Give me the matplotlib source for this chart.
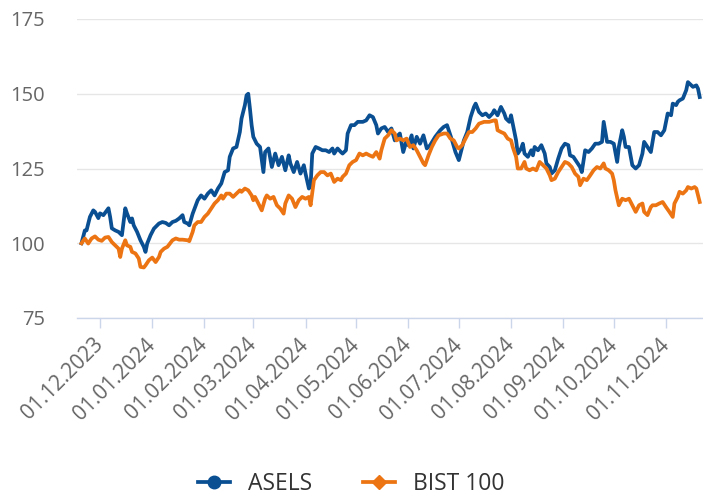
import pandas as pd
import matplotlib
matplotlib.use("Agg")
import matplotlib.pyplot as plt
import matplotlib.dates as mdates
from matplotlib.lines import Line2D

plt.rcParams['font.family'] = ['Open Sans', 'DejaVu Sans']

# ASELS (normalised to 100)
asels_dates = [
    "2023-11-20", "2023-11-22", "2023-11-23", "2023-11-25", "2023-11-27", "2023-11-28", "2023-11-30",
    "2023-12-01", "2023-12-03", "2023-12-06", "2023-12-07", "2023-12-08", "2023-12-10", "2023-12-12",
    "2023-12-14", "2023-12-16", "2023-12-17", "2023-12-19", "2023-12-20", "2023-12-21", "2023-12-23",
    "2023-12-25", "2023-12-27", "2023-12-28", "2023-12-29", "2023-12-31",
    "2024-01-02", "2024-01-05", "2024-01-07", "2024-01-09", "2024-01-11", "2024-01-13", "2024-01-15",
    "2024-01-17", "2024-01-19", "2024-01-20", "2024-01-22", "2024-01-23", "2024-01-25", "2024-01-28",
    "2024-01-30",
    "2024-02-01", "2024-02-03", "2024-02-05", "2024-02-07", "2024-02-09", "2024-02-11", "2024-02-13",
    "2024-02-15", "2024-02-16", "2024-02-18", "2024-02-20", "2024-02-22", "2024-02-23", "2024-02-25",
    "2024-02-26", "2024-02-27", "2024-02-28", "2024-02-29",
    "2024-03-01", "2024-03-03", "2024-03-05", "2024-03-07", "2024-03-08", "2024-03-10", "2024-03-12",
    "2024-03-14", "2024-03-16", "2024-03-18", "2024-03-20", "2024-03-22", "2024-03-23", "2024-03-25",
    "2024-03-27", "2024-03-29", "2024-03-31",
    "2024-04-01", "2024-04-03", "2024-04-04", "2024-04-05", "2024-04-07", "2024-04-09", "2024-04-11",
    "2024-04-13", "2024-04-15", "2024-04-17", "2024-04-18", "2024-04-20", "2024-04-22", "2024-04-23",
    "2024-04-25", "2024-04-26", "2024-04-28", "2024-04-30",
    "2024-05-02", "2024-05-05", "2024-05-07", "2024-05-09", "2024-05-11", "2024-05-13", "2024-05-14",
    "2024-05-16", "2024-05-18", "2024-05-20", "2024-05-22", "2024-05-24", "2024-05-25", "2024-05-27",
    "2024-05-29", "2024-05-31",
    "2024-06-01", "2024-06-03", "2024-06-04", "2024-06-06", "2024-06-08", "2024-06-10", "2024-06-12",
    "2024-06-14", "2024-06-17", "2024-06-20", "2024-06-22", "2024-06-24", "2024-06-25", "2024-06-27",
    "2024-06-29",
    "2024-07-01", "2024-07-02", "2024-07-04", "2024-07-06", "2024-07-08", "2024-07-10", "2024-07-11",
    "2024-07-13", "2024-07-15", "2024-07-17", "2024-07-19", "2024-07-21", "2024-07-22", "2024-07-24",
    "2024-07-26", "2024-07-28", "2024-07-29", "2024-07-31",
    "2024-08-01", "2024-08-02", "2024-08-04", "2024-08-05", "2024-08-07", "2024-08-08", "2024-08-09",
    "2024-08-11", "2024-08-13", "2024-08-14", "2024-08-15", "2024-08-17", "2024-08-19", "2024-08-21",
    "2024-08-22", "2024-08-24", "2024-08-25", "2024-08-27", "2024-08-29", "2024-08-31",
    "2024-09-02", "2024-09-04", "2024-09-05", "2024-09-07", "2024-09-09", "2024-09-11", "2024-09-12",
    "2024-09-14", "2024-09-16", "2024-09-18", "2024-09-20", "2024-09-22", "2024-09-24", "2024-09-25",
    "2024-09-27", "2024-09-29",
    "2024-10-01", "2024-10-03", "2024-10-04", "2024-10-06", "2024-10-07", "2024-10-08", "2024-10-10",
    "2024-10-12", "2024-10-14", "2024-10-16", "2024-10-18", "2024-10-19", "2024-10-21", "2024-10-23",
    "2024-10-25", "2024-10-27", "2024-10-29", "2024-10-31",
    "2024-11-02", "2024-11-04", "2024-11-05", "2024-11-07", "2024-11-08", "2024-11-09", "2024-11-11",
    "2024-11-13", "2024-11-14", "2024-11-16", "2024-11-17", "2024-11-19", "2024-11-20", "2024-11-21",
]
asels_vals = [
    100, 104.3, 104.3, 108.8, 111, 110.5, 108.4,
    110, 109.4, 111.7, 108.8, 105, 104.3, 103.8, 102.7, 111.7, 110, 107.1, 108.3, 106, 103.8,
    101, 98.8, 97.1, 99.9, 102.7,
    104.9, 106.6, 107.1, 106.8, 106, 107.1, 107.5, 108.3, 109.4, 107.1, 106.6, 106, 109.9, 114.4, 116,
    114.9, 116.6, 117.7, 116, 118.3, 120, 123.8, 124.4, 128.9, 131.7, 132.2, 137.2, 141.7, 146.2,
    149.5, 150, 145, 139.5,
    135.6, 133.3, 132.2, 123.8, 130.5, 131.7, 125.5, 130, 126.1, 128.9, 124.4, 129.4, 126.7, 123.8,
    127.2, 123.3, 126.1,
    123.3, 118.3, 119.3, 130, 132.2, 131.7, 131.1, 131.1, 130.5, 131.7, 130, 131.7, 130.5, 130,
    131.1, 136.7, 139.5, 139.5,
    140.6, 140.6, 141.1, 142.8, 142.2, 139.5, 136.7, 138.4, 138.9, 137.2, 138.4, 134.4, 135.6, 136.7,
    130.5, 134.4,
    132.8, 136.1, 131.7, 135.6, 133.3, 136.1, 131.7, 132.8, 135.6, 137.8, 138.9, 139.5, 137.8, 134.4,
    130.5,
    127.8, 130, 134.4, 137.2, 142.2, 145.6, 146.7, 143.9, 142.8, 143.4, 142.2, 143.4, 144.5, 142.8,
    145.6, 143.4, 141.7, 140.6,
    142.8, 140, 134.4, 130, 131.7, 133.3, 130, 128.9, 131.1, 129.4, 132.2, 131.1, 132.8, 130,
    126.7, 125.5, 123.3, 124.4, 128.3, 131.7,
    133.3, 132.8, 129.4, 128.9, 127.2, 125.5, 123.8, 131.1, 130.5, 131.7, 133.3, 133.3, 133.9, 140.6,
    133.9, 133.9,
    133.3, 127.2, 132.2, 137.8, 135.6, 132.2, 132.2, 126.1, 125, 126.1, 130, 133.9, 132.2, 130.5,
    137.2, 137.2, 136.1, 137.8,
    143.4, 142.8, 146.7, 146.2, 147.3, 147.8, 148.4, 151.2, 153.9, 152.8, 152.3, 152.8, 151.7, 148.9,
]

# BIST 100 (normalised to 100)
bist_dates = [
    "2023-11-20", "2023-11-22", "2023-11-24", "2023-11-26", "2023-11-28", "2023-11-30",
    "2023-12-02", "2023-12-04", "2023-12-06", "2023-12-08", "2023-12-10", "2023-12-12", "2023-12-13",
    "2023-12-14", "2023-12-16", "2023-12-17", "2023-12-19", "2023-12-20", "2023-12-22", "2023-12-24",
    "2023-12-25", "2023-12-27", "2023-12-28", "2023-12-30",
    "2024-01-01", "2024-01-03", "2024-01-05", "2024-01-06", "2024-01-08", "2024-01-10", "2024-01-13",
    "2024-01-15", "2024-01-17", "2024-01-19", "2024-01-22", "2024-01-23", "2024-01-25", "2024-01-26",
    "2024-01-28", "2024-01-30",
    "2024-02-01", "2024-02-03", "2024-02-05", "2024-02-07", "2024-02-09", "2024-02-11", "2024-02-12",
    "2024-02-14", "2024-02-16", "2024-02-18", "2024-02-20", "2024-02-22", "2024-02-23", "2024-02-25",
    "2024-02-27", "2024-02-29",
    "2024-03-01", "2024-03-02", "2024-03-04", "2024-03-06", "2024-03-08", "2024-03-09", "2024-03-11",
    "2024-03-13", "2024-03-15", "2024-03-17", "2024-03-19", "2024-03-20", "2024-03-22", "2024-03-24",
    "2024-03-26", "2024-03-28", "2024-03-30",
    "2024-04-01", "2024-04-03", "2024-04-04", "2024-04-06", "2024-04-08", "2024-04-10", "2024-04-12",
    "2024-04-14", "2024-04-16", "2024-04-18", "2024-04-20", "2024-04-22", "2024-04-23", "2024-04-25",
    "2024-04-27", "2024-04-29",
    "2024-05-01", "2024-05-03", "2024-05-05", "2024-05-07", "2024-05-09", "2024-05-11", "2024-05-13",
    "2024-05-15", "2024-05-16", "2024-05-18", "2024-05-20", "2024-05-22", "2024-05-24", "2024-05-25",
    "2024-05-27", "2024-05-29", "2024-05-31",
    "2024-06-02", "2024-06-04", "2024-06-06", "2024-06-08", "2024-06-10", "2024-06-11", "2024-06-13",
    "2024-06-15", "2024-06-17", "2024-06-19", "2024-06-22", "2024-06-24", "2024-06-26", "2024-06-28",
    "2024-06-30",
    "2024-07-01", "2024-07-03", "2024-07-05", "2024-07-07", "2024-07-09", "2024-07-11", "2024-07-13",
    "2024-07-16", "2024-07-19", "2024-07-22", "2024-07-23", "2024-07-24", "2024-07-26", "2024-07-28",
    "2024-07-30",
    "2024-08-01", "2024-08-02", "2024-08-04", "2024-08-05", "2024-08-07", "2024-08-09", "2024-08-10",
    "2024-08-12", "2024-08-14", "2024-08-16", "2024-08-18", "2024-08-20", "2024-08-22", "2024-08-24",
    "2024-08-25", "2024-08-27", "2024-08-29", "2024-08-31",
    "2024-09-02", "2024-09-04", "2024-09-06", "2024-09-08", "2024-09-10", "2024-09-11", "2024-09-13",
    "2024-09-15", "2024-09-17", "2024-09-19", "2024-09-21", "2024-09-23", "2024-09-25", "2024-09-26",
    "2024-09-28", "2024-09-30",
    "2024-10-01", "2024-10-02", "2024-10-04", "2024-10-06", "2024-10-08", "2024-10-10", "2024-10-12",
    "2024-10-14", "2024-10-16", "2024-10-18", "2024-10-19", "2024-10-21", "2024-10-23", "2024-10-24",
    "2024-10-26", "2024-10-28", "2024-10-30",
    "2024-11-01", "2024-11-03", "2024-11-05", "2024-11-06", "2024-11-08", "2024-11-09", "2024-11-11",
    "2024-11-13", "2024-11-14", "2024-11-16", "2024-11-18", "2024-11-19", "2024-11-21",
]
bist_vals = [
    100, 101.6, 99.9, 101.6, 102.3, 101.2,
    100.8, 101.9, 102.1, 100.4, 99.3, 98.2, 95.4, 98.2, 101, 99.3, 98.8, 97.1, 96.6, 94.9,
    92.1, 91.9, 92.6, 94.3,
    95.2, 93.7, 95.4, 97.1, 98.2, 98.8, 101, 101.6, 101.2, 101.2, 101, 100.7, 103.8, 106,
    107.1, 107.1,
    108.8, 109.9, 111.6, 113.3, 114.4, 116, 114.9, 116.6, 116.6, 115.5, 116.6, 117.7, 117.2, 118.3,
    117.7, 116,
    114.4, 115.5, 113.3, 111, 114.9, 116, 114.9, 115.5, 112.7, 111.6, 109.9, 113.3, 116, 114.9,
    112.1, 114.4, 115.5,
    114.9, 115.5, 112.7, 121.1, 122.7, 123.8, 123.8, 122.7, 123.3, 120.5, 121.6, 121.1, 122.2, 123.3,
    126.1, 127.2,
    127.8, 130, 129.4, 130, 129.4, 128.9, 130.5, 128.3, 131.1, 135, 136.1, 137.8, 136.7, 134.4,
    135, 134.4, 135,
    132.2, 132.8, 131.1, 128.9, 126.7, 126.1, 129.4, 132.2, 134.4, 136.1, 136.7, 136.7, 135, 134.4,
    132.2,
    131.7, 132.8, 135, 137.2, 137.2, 138.4, 140, 140.6, 140.6, 141.1, 141.1, 137.8, 137.2, 136.7,
    135,
    134.4, 132.2, 128.9, 125, 125, 127.2, 125, 124.4, 125, 124.4, 127.2, 126.1, 125, 122.7,
    121.1, 121.6, 123.8, 125.5,
    127.2, 126.7, 125.5, 123.3, 122.2, 119.4, 121.6, 121.1, 122.7, 124.4, 125.5, 125, 126.7, 125,
    124.4, 123.3,
    121.1, 117.7, 112.7, 114.9, 114.4, 114.9, 112.7, 110.5, 112.7, 113.3, 110.5, 109.4, 112.1, 112.7,
    112.7, 113.3, 113.8,
    112.1, 110.5, 108.8, 113.3, 115.5, 117.2, 116.6, 117.7, 118.8, 118.3, 118.8, 118.3, 113.8,
]

y_ticks = [75, 100, 125, 150, 175]

asels_color = "#0a4f92"
bist_color = "#ec7412"

fig = plt.figure(figsize=(7.03, 4.99), dpi=100)
ax = fig.add_axes([77 / 703, 1 - 318 / 499, 626 / 703, 299 / 499])

ax.plot(pd.to_datetime(bist_dates), bist_vals, color=bist_color, lw=2.7, zorder=3,
        solid_joinstyle="round")
ax.plot(pd.to_datetime(asels_dates), asels_vals, color=asels_color, lw=2.7, zorder=2,
        solid_joinstyle="round")

ax.set_ylim(75, 175)
ax.set_yticks(y_ticks)
ax.set_xlim(pd.Timestamp("2023-11-17 08:00"), pd.Timestamp("2024-11-22 23:00"))

ax.xaxis.set_major_locator(mdates.MonthLocator(bymonthday=1))
ax.xaxis.set_major_formatter(mdates.DateFormatter("%d.%m.%Y"))

ax.grid(axis="y", color="#e6e6e6", lw=1)
ax.set_axisbelow(True)
for s in ["top", "right", "left"]:
    ax.spines[s].set_visible(False)
ax.spines["bottom"].set_color("#ccd6eb")
ax.spines["bottom"].set_linewidth(1)

ax.tick_params(axis="y", length=0, pad=23, labelsize=14.5, labelcolor="#666666")
ax.tick_params(axis="x", length=7, width=1, color="#ccd6eb", pad=10,
               labelsize=15, labelcolor="#666666")
for lab in ax.get_xticklabels():
    lab.set_rotation(45)
    lab.set_ha("right")
    lab.set_va("center")
    lab.set_rotation_mode("anchor")

handles = [
    Line2D([], [], color=asels_color, lw=2.7, marker="o", markersize=9),
    Line2D([], [], color=bist_color, lw=2.7, marker="D", markersize=7),
]
fig.legend(handles, ["ASELS", "BIST 100"], loc="lower center", bbox_to_anchor=(0.5, -0.036),
           ncol=2, frameon=False, fontsize=16.5, handlelength=1.4, columnspacing=2.2,
           labelcolor="#333333")

fig.savefig("out.png", dpi=100)
